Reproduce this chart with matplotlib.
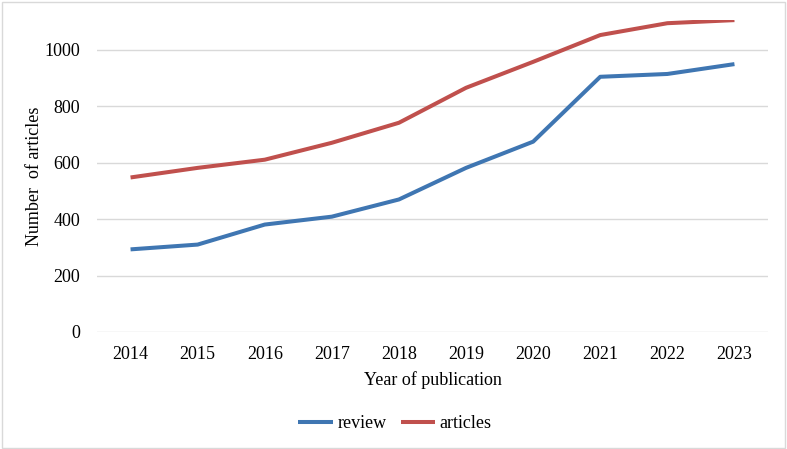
import matplotlib.pyplot as plt
from matplotlib.patches import Rectangle

years = ['2014', '2015', '2016', '2017', '2018', '2019', '2020', '2021', '2022', '2023']
review = [293, 310, 381, 409, 470, 582, 675, 905, 915, 950]
articles = [548, 582, 611, 671, 742, 866, 958, 1053, 1095, 1106]

plt.rcParams['font.family'] = ['Liberation Serif', 'DejaVu Serif']

fig = plt.figure(figsize=(7.87, 4.49), dpi=100)
ax = fig.add_axes([97 / 787, 1 - 332 / 449, 671 / 787, 312 / 449])

x = range(len(years))
ax.plot(x, review, color='#3F76B2', linewidth=2.9, label='review', solid_capstyle='butt')
ax.plot(x, articles, color='#C0504D', linewidth=2.9, label='articles', solid_capstyle='butt')

ax.set_xlim(-0.5, len(years) - 0.5)
ax.set_ylim(0, 1000 * 312 / 282)
ax.set_yticks([0, 200, 400, 600, 800, 1000])
ax.set_xticks(list(x))
ax.set_xticklabels(years)
ax.yaxis.grid(True, color='#D9D9D9', linewidth=1.0)
ax.set_axisbelow(True)
for s in ax.spines.values():
    s.set_visible(False)
ax.tick_params(length=0, labelsize=13, colors='black')
ax.tick_params(axis='x', pad=10)
ax.tick_params(axis='y', pad=12)

ax.set_xlabel('Year of publication', fontsize=13, labelpad=6)
ax.set_ylabel('Number  of articles', fontsize=13, labelpad=1)

fig.legend(loc='center', bbox_to_anchor=(395 / 787, 1 - 424 / 449), ncol=2,
           frameon=False, fontsize=13, handlelength=1.9, columnspacing=0.8,
           handletextpad=0.25)

fig.patches.append(Rectangle((0.002, 0.003), 0.995, 0.993, transform=fig.transFigure,
                             fill=False, edgecolor='#D9D9D9', linewidth=1.0))

fig.savefig('out.png', dpi=100)
